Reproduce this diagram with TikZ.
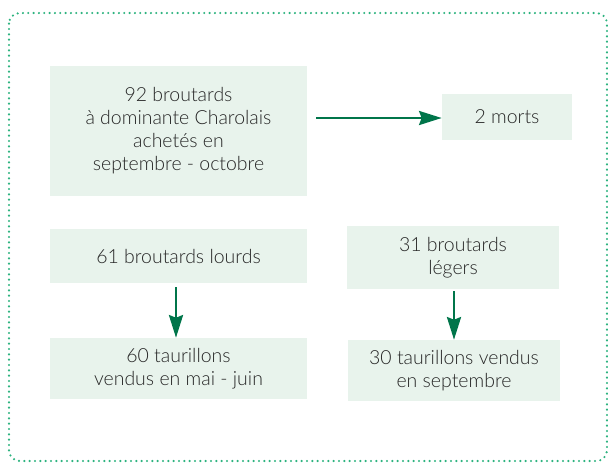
\documentclass[tikz,border=0pt]{standalone}
\usepackage{fontspec}
\setmainfont{Lato Light}[BoldFont=Lato]
\usetikzlibrary{arrows.meta}
\definecolor{boxfill}{HTML}{E8F3EC}
\definecolor{arrowgreen}{HTML}{00754A}
\definecolor{dotgreen}{HTML}{2DB37F}
\definecolor{txt}{HTML}{262626}
\tikzset{
  box/.style={fill=boxfill, draw=none, align=center, text=txt, inner sep=0pt,
    font=\fontsize{14.6pt}{17.25pt}\selectfont},
  flow/.style={draw=arrowgreen, line width=2pt, -{Stealth[length=17pt,width=10.5pt,inset=2pt]}},
  frame/.style={draw=dotgreen, line width=1.8pt, line cap=round, dash pattern=on 0pt off 4pt, rounded corners=8pt}
}
\begin{document}
\begin{tikzpicture}[x=0.75pt,y=-0.75pt]
\useasboundingbox (0,0) rectangle (608,462);
\draw[frame] (9,13) rectangle (607,461);
\node[box, minimum width=192.75pt, minimum height=97.5pt] (a) at (178.5,131)
  {92 broutards\\à dominante Charolais\\achetés en\\septembre - octobre};
\node[box, minimum width=97.5pt, minimum height=34.5pt] (m) at (507,117) {2 morts};
\node[box, minimum width=192.75pt, minimum height=40.5pt] (l) at (178.5,256) {61 broutards lourds};
\node[box, minimum width=159pt, minimum height=47.25pt] (g) at (453,257.5) {31 broutards\\légers};
\node[box, minimum width=192.75pt, minimum height=45.75pt] (t1) at (178.5,368.5) {60 taurillons\\vendus en mai - juin};
\node[box, minimum width=159pt, minimum height=45.75pt] (t2) at (454,370.5) {30 taurillons vendus\\en septembre};
\draw[flow] ([xshift=6.75pt]a.east |- 0,118) coordinate (s1) -- (m.west |- s1);
\draw[flow] ([yshift=-3pt]l.south -| 176,0) coordinate (s2) -- (t1.north -| s2);
\draw[flow] ([yshift=-1.5pt]g.south -| 454,0) coordinate (s3) -- (t2.north -| s3);
\end{tikzpicture}
\end{document}
